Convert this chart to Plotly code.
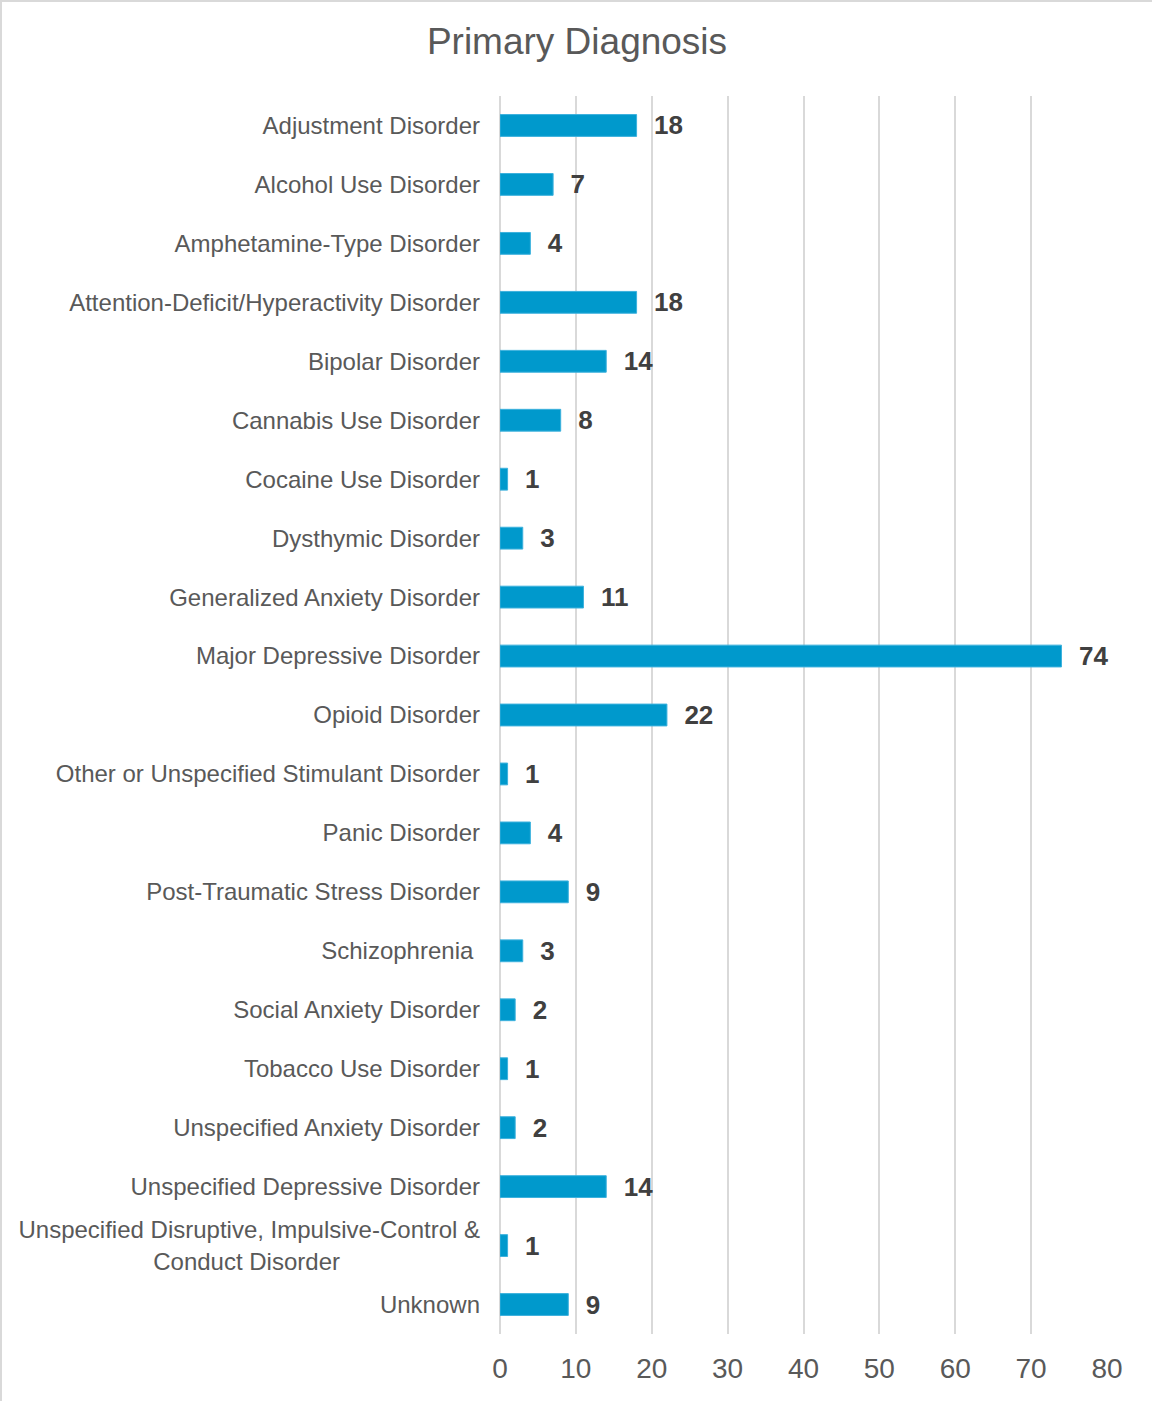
import plotly.graph_objects as go

# Diagnosis categories (top to bottom) and patient counts
diagnoses = [
    "Adjustment Disorder",
    "Alcohol Use Disorder",
    "Amphetamine-Type Disorder",
    "Attention-Deficit/Hyperactivity Disorder",
    "Bipolar Disorder",
    "Cannabis Use Disorder",
    "Cocaine Use Disorder",
    "Dysthymic Disorder",
    "Generalized Anxiety Disorder",
    "Major Depressive Disorder",
    "Opioid Disorder",
    "Other or Unspecified Stimulant Disorder",
    "Panic Disorder",
    "Post-Traumatic Stress Disorder",
    "Schizophrenia",
    "Social Anxiety Disorder",
    "Tobacco Use Disorder",
    "Unspecified Anxiety Disorder",
    "Unspecified Depressive Disorder",
    "Unspecified Disruptive, Impulsive-Control & Conduct Disorder",
    "Unknown",
]
counts = [18, 7, 4, 18, 14, 8, 1, 3, 11, 74, 22, 1, 4, 9, 3, 2, 1, 2, 14, 1, 9]

# Axis label text; the long label wraps onto two lines with the second line centred
NB = "\u00a0"
tick_text = list(diagnoses)
tick_text[diagnoses.index("Schizophrenia")] = "Schizophrenia" + NB
tick_text[diagnoses.index("Unspecified Disruptive, Impulsive-Control & Conduct Disorder")] = (
    "Unspecified Disruptive, Impulsive-Control &<br>Conduct Disorder" + NB * 21
)

x_ticks = [0, 10, 20, 30, 40, 50, 60, 70, 80]

W, H = 1152, 1401
L, R, T, B = 500, 45, 96, 67
FONT = "Liberation Sans, Arial, Helvetica, sans-serif"
GRID = "#d9d9d9"
TEXT = "#595959"

fig = go.Figure(
    go.Bar(
        x=counts,
        y=diagnoses,
        orientation="h",
        marker=dict(color="#0099cc", line=dict(color="#3cb1dd", width=1)),
        text=counts,
        texttemplate=NB + NB + "%{x}",
        textposition="outside",
        constraintext="none",
        textfont=dict(family=FONT, size=26, color="#404040", weight="bold"),
        cliponaxis=False,
        hoverinfo="skip",
    )
)

pw = W - L - R
ph = H - T - B


def px_x(px):
    return (px - L) / pw


def px_y(py):
    return 1 - (py - T) / ph


fig.update_layout(
    width=W,
    height=H,
    margin=dict(l=L, r=R, t=T, b=B, autoexpand=False),
    paper_bgcolor="white",
    plot_bgcolor="white",
    bargap=0.63,
    showlegend=False,
    font=dict(family=FONT, color=TEXT),
    title=dict(
        text="Primary Diagnosis",
        font=dict(family=FONT, size=37, color=TEXT),
        x=577 / W,
        xanchor="center",
        xref="container",
        y=1 - 41 / H,
        yanchor="middle",
        yref="container",
    ),
    xaxis=dict(
        range=[0, 80],
        tickvals=x_ticks,
        ticktext=[str(v) for v in x_ticks],
        showgrid=True,
        gridcolor=GRID,
        gridwidth=2,
        zeroline=True,
        zerolinecolor=GRID,
        zerolinewidth=2,
        showline=False,
        ticks="",
        ticklabelstandoff=15,
        tickfont=dict(family=FONT, size=28, color=TEXT),
        fixedrange=True,
    ),
    yaxis=dict(
        categoryorder="array",
        categoryarray=diagnoses,
        tickvals=diagnoses,
        ticktext=tick_text,
        autorange="reversed",
        showgrid=False,
        showline=False,
        zeroline=False,
        ticks="",
        ticklabelstandoff=19,
        tickfont=dict(family=FONT, size=24, color=TEXT),
        fixedrange=True,
    ),
    shapes=[
        dict(
            type="rect",
            xref="paper",
            yref="paper",
            x0=px_x(1),
            x1=px_x(W + 10),
            y0=px_y(H + 10),
            y1=px_y(1),
            line=dict(color=GRID, width=2),
            fillcolor="rgba(0,0,0,0)",
            layer="below",
        )
    ],
)

fig.write_html("out.html", config={"displayModeBar": False})
